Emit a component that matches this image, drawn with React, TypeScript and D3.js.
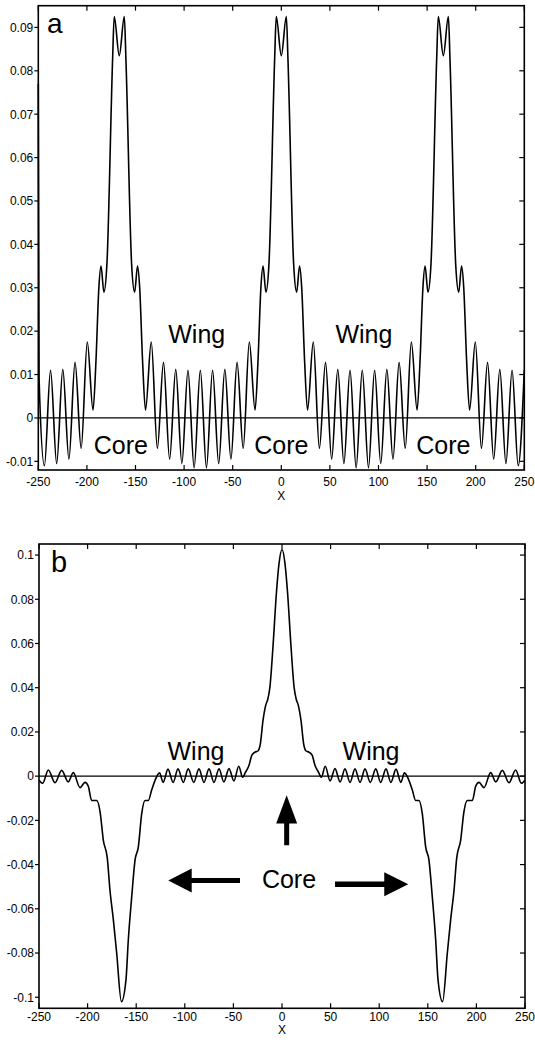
import React from "react";
import * as d3 from "d3";

const X_TICKS = [-250, -200, -150, -100, -50, 0, 50, 100, 150, 200, 250];
const X_TICK_LABELS = ["-250", "-200", "-150", "-100", "-50", "0", "50", "100", "150", "200", "250"];

const A_Y_TICKS = [-0.01, 0, 0.01, 0.02, 0.03, 0.04, 0.05, 0.06, 0.07, 0.08, 0.09];
const A_Y_LABELS = ["-0.01", "0", "0.01", "0.02", "0.03", "0.04", "0.05", "0.06", "0.07", "0.08", "0.09"];

const B_Y_TICKS = [-0.1, -0.08, -0.06, -0.04, -0.02, 0, 0.02, 0.04, 0.06, 0.08, 0.1];
const B_Y_LABELS = ["-0.1", "-0.08", "-0.06", "-0.04", "-0.02", "0", "0.02", "0.04", "0.06", "0.08", "0.1"];

// Panel a curve
const A_X = [
  -250, -249.2, -243.7, -237.4, -231.1, -224.8, -218.5, -212.2, -205.9, -199.6,
  -193.7, -190.7, -187.7, -185.5, -182.5, -179.4, -173.5, -171.9, -166.7, -161.5,
  -159.9, -154, -150.9, -147.9, -145.7, -142.7, -139.7, -133.8, -127.5, -121.2,
  -114.9, -108.6, -102.3, -96.0, -89.7, -83.3, -77.0, -70.7, -64.4, -58.1,
  -51.8, -45.5, -39.2, -32.9, -27.0, -24, -21, -18.8, -15.8, -12.7,
  -6.8, -5.2, 0, 5.2, 6.8, 12.7, 15.8, 18.8, 21, 24,
  27.0, 32.9, 39.2, 45.5, 51.8, 58.1, 64.4, 70.7, 77.0, 83.3,
  89.7, 96.0, 102.3, 108.6, 114.9, 121.2, 127.5, 133.8, 139.7, 142.7,
  145.7, 147.9, 150.9, 154, 159.9, 161.5, 166.7, 171.9, 173.5, 179.4,
  182.5, 185.5, 187.7, 190.7, 193.7, 199.6, 205.9, 212.2, 218.5, 224.8,
  231.1, 237.4, 243.7, 250,
];
const A_Y = [
  0.077, 0.009, -0.011, 0.011, -0.0105, 0.0112, -0.0095, 0.0128, -0.007, 0.0175,
  0.0018, 0.013, 0.03, 0.035, 0.029, 0.0355, 0.083, 0.0925, 0.0835, 0.0925,
  0.083, 0.0355, 0.029, 0.035, 0.03, 0.013, 0.0018, 0.0175, -0.007, 0.0128,
  -0.0095, 0.0112, -0.0105, 0.011, -0.0115, 0.011, -0.0115, 0.011, -0.0105, 0.0112,
  -0.0095, 0.0128, -0.007, 0.0175, 0.0018, 0.013, 0.03, 0.035, 0.029, 0.0355,
  0.083, 0.0925, 0.0835, 0.0925, 0.083, 0.0355, 0.029, 0.035, 0.03, 0.013,
  0.0018, 0.0175, -0.007, 0.0128, -0.0095, 0.0112, -0.0105, 0.011, -0.0115, 0.011,
  -0.0115, 0.011, -0.0105, 0.0112, -0.0095, 0.0128, -0.007, 0.0175, 0.0018, 0.013,
  0.03, 0.035, 0.029, 0.0355, 0.083, 0.0925, 0.0835, 0.0925, 0.083, 0.0355,
  0.029, 0.035, 0.03, 0.013, 0.0018, 0.0175, -0.007, 0.0128, -0.0095, 0.0112,
  -0.0105, 0.011, -0.011, 0.011,
];

// Panel b curve
const B_X = [
  -250, -246.2, -240.4, -233.5, -226.7, -219.9, -214.7, -207.8, -202.7, -199.3,
  -195.8, -190.6, -187.2, -183.8, -179.7, -177, -173.5, -170.1, -165.2, -160.5,
  -158.1, -154.6, -151.2, -147.8, -144.3, -140.9, -137.5, -134.1, -130.7, -126,
  -122.3, -117.3, -112, -107, -101.5, -96.5, -90.8, -85.4, -80.3, -75.1,
  -70, -64.8, -59.8, -54.5, -49.5, -44.5, -40.5, -37.5, -34, -31,
  -28, -24.5, -22.5, -19.5, -16.8, -14.5, -12.5, -9.3, -5.8, -3.1,
  0, 3.1, 5.8, 9.3, 12.5, 14.5, 16.8, 19.5, 22.5, 24.5,
  28, 31, 34, 37.5, 40.5, 44.5, 49.5, 54.5, 59.8, 64.8,
  70, 75.1, 80.3, 85.4, 90.8, 96.5, 101.5, 107, 112, 117.3,
  122.3, 126, 130.7, 134.1, 137.5, 140.9, 144.3, 147.8, 151.2, 154.6,
  158.1, 160.5, 165.2, 170.1, 173.5, 177, 179.7, 183.8, 187.2, 190.6,
  195.8, 199.3, 202.7, 207.8, 214.7, 219.9, 226.7, 233.5, 240.4, 246.2,
  250,
];
const B_Y = [
  -0.0018, -0.0032, 0.0028, -0.003, 0.0026, -0.0026, 0.0016, -0.0052, -0.0028, -0.0045,
  -0.011, -0.011, -0.016, -0.029, -0.0372, -0.0515, -0.065, -0.08, -0.102, -0.092,
  -0.074, -0.0545, -0.038, -0.032, -0.0168, -0.011, -0.011, -0.0063, -0.002, 0.0015,
  -0.0028, 0.0032, -0.0028, 0.0033, -0.0028, 0.0033, -0.0028, 0.0033, -0.0028, 0.0033,
  -0.0028, 0.0033, -0.0026, 0.0034, -0.0022, 0.0045, -0.0005, 0.0018, 0.0048, 0.0095,
  0.0108, 0.0115, 0.014, 0.0253, 0.032, 0.035, 0.04, 0.0584, 0.0825, 0.096,
  0.1025, 0.096, 0.0825, 0.0584, 0.04, 0.035, 0.032, 0.0253, 0.014, 0.0115,
  0.0108, 0.0095, 0.0048, 0.0018, -0.0005, 0.0045, -0.0022, 0.0034, -0.0026, 0.0033,
  -0.0028, 0.0033, -0.0028, 0.0033, -0.0028, 0.0033, -0.0028, 0.0033, -0.0028, 0.0032,
  -0.0028, 0.0015, -0.002, -0.0063, -0.011, -0.011, -0.0168, -0.032, -0.038, -0.0545,
  -0.074, -0.092, -0.102, -0.08, -0.065, -0.0515, -0.0372, -0.029, -0.016, -0.011,
  -0.011, -0.0045, -0.0028, -0.0052, 0.0016, -0.0026, 0.0026, -0.003, 0.0028, -0.0032,
  -0.0018,
];

const FONT = "'Liberation Sans', Arial, Helvetica, sans-serif";

type PanelProps = {
  xs: number[];
  ys: number[];
  xRange: [number, number];
  yDomain: [number, number];
  yRange: [number, number];
  yTicks: number[];
  yLabels: string[];
  tickBaseline: number;
  xLabelBaseline: number;
  letter: string;
  letterPos: [number, number];
  letterSize: number;
  children?: (x: d3.ScaleLinear<number, number>, y: d3.ScaleLinear<number, number>) => React.ReactNode;
};

function Panel(p: PanelProps) {
  const x = d3.scaleLinear().domain([-250, 250]).range(p.xRange);
  const y = d3.scaleLinear().domain(p.yDomain).range(p.yRange);
  const pts = p.xs.map((v, i) => [v, p.ys[i]] as [number, number]);
  const line = d3
    .line<[number, number]>()
    .x((d) => x(d[0]))
    .y((d) => y(d[1]))
    .curve(d3.curveMonotoneX);
  const [x0, x1] = p.xRange;
  const [y1, y0] = p.yRange; // y1 bottom, y0 top
  return (
    <g>
      <path d={line(pts) || ""} fill="none" stroke="#000" strokeWidth={1.6} strokeLinejoin="round" />
      <line x1={x0} x2={x1} y1={y(0)} y2={y(0)} stroke="#000" strokeWidth={1.3} />
      <rect x={x0} y={y0} width={x1 - x0} height={y1 - y0} fill="none" stroke="#000" strokeWidth={1.6} />
      {X_TICKS.map((t, i) => (
        <g key={"xt" + i}>
          <line x1={x(t)} x2={x(t)} y1={y1} y2={y1 - 5} stroke="#000" strokeWidth={1.2} />
          <line x1={x(t)} x2={x(t)} y1={y0} y2={y0 + 5} stroke="#000" strokeWidth={1.2} />
          <text x={x(t)} y={p.tickBaseline} textAnchor="middle" fontSize={12} fontFamily={FONT}>
            {X_TICK_LABELS[i]}
          </text>
        </g>
      ))}
      {p.yTicks.map((t, i) => (
        <g key={"yt" + i}>
          <line x1={x0 - 4} x2={x0} y1={y(t)} y2={y(t)} stroke="#000" strokeWidth={1.2} />
          <line x1={x1 - 5} x2={x1} y1={y(t)} y2={y(t)} stroke="#000" strokeWidth={1.2} />
          <text x={x0 - 5} y={y(t)} dy="0.36em" textAnchor="end" fontSize={12} fontFamily={FONT}>
            {p.yLabels[i]}
          </text>
        </g>
      ))}
      <text x={x(0)} y={p.xLabelBaseline} textAnchor="middle" fontSize={12} fontFamily={FONT}>
        X
      </text>
      <text x={p.letterPos[0]} y={p.letterPos[1]} fontSize={p.letterSize} fontFamily={FONT}>
        {p.letter}
      </text>
      {p.children ? p.children(x, y) : null}
    </g>
  );
}

function HArrow({ x, y, tip, base, end, half, thick }: { x: any; y: any; tip: number; base: number; end: number; half: number; thick: number }) {
  const tx = x(tip);
  const bx = x(base);
  const ex = x(end);
  const cy = y;
  const d = `M${tx},${cy} L${bx},${cy - half} L${bx},${cy - thick / 2} L${ex},${cy - thick / 2} L${ex},${cy + thick / 2} L${bx},${cy + thick / 2} L${bx},${cy + half} Z`;
  return <path d={d} fill="#000" />;
}

export default function App() {
  const labelStyle = { fontFamily: FONT, fontSize: 25 } as const;
  return (
    <svg
      width={535}
      height={1042}
      style={{ position: "absolute", left: 0, top: 0, background: "#fff" }}
    >
      <rect x={0} y={0} width={535} height={1042} fill="#fff" />
      <Panel
        xs={A_X}
        ys={A_Y}
        xRange={[38.3, 524.3]}
        yDomain={[-0.012, 0.095]}
        yRange={[470, 5.7]}
        yTicks={A_Y_TICKS}
        yLabels={A_Y_LABELS}
        tickBaseline={486}
        xLabelBaseline={500}
        letter="a"
        letterPos={[47, 33]}
        letterSize={28}
      >
        {(x, y) => (
          <g>
            <text x={x(-87)} y={y(0.0173)} textAnchor="middle" {...labelStyle}>Wing</text>
            <text x={x(85)} y={y(0.0173)} textAnchor="middle" {...labelStyle}>Wing</text>
            <text x={x(-165)} y={y(-0.0084)} textAnchor="middle" {...labelStyle}>Core</text>
            <text x={x(0)} y={y(-0.0084)} textAnchor="middle" {...labelStyle}>Core</text>
            <text x={x(166.7)} y={y(-0.0084)} textAnchor="middle" {...labelStyle}>Core</text>
          </g>
        )}
      </Panel>
      <Panel
        xs={B_X}
        ys={B_Y}
        xRange={[39, 525]}
        yDomain={[-0.105, 0.105]}
        yRange={[1008.3, 544]}
        yTicks={B_Y_TICKS}
        yLabels={B_Y_LABELS}
        tickBaseline={1021}
        xLabelBaseline={1034}
        letter="b"
        letterPos={[51, 572]}
        letterSize={29}
      >
        {(x, y) => (
          <g>
            <text x={x(-88.5)} y={y(0.0075)} textAnchor="middle" {...labelStyle}>Wing</text>
            <text x={x(91.6)} y={y(0.0075)} textAnchor="middle" {...labelStyle}>Wing</text>
            <text x={x(7.2)} y={y(-0.0507)} textAnchor="middle" {...labelStyle}>Core</text>
            <HArrow x={x} y={y(-0.0472)} tip={-117} base={-92.9} end={-43.2} half={12} thick={5} />
            <HArrow x={x} y={y(-0.0489)} tip={129.9} base={105.2} end={54.5} half={12} thick={5.5} />
            {(() => {
              const cx = x(4.8);
              const tipY = y(-0.0086);
              const baseY = y(-0.0214);
              const endY = y(-0.0312);
              const half = 10.5;
              const th = 2.5;
              const d = `M${cx},${tipY} L${cx + half},${baseY} L${cx + th},${baseY} L${cx + th},${endY} L${cx - th},${endY} L${cx - th},${baseY} L${cx - half},${baseY} Z`;
              return <path d={d} fill="#000" />;
            })()}
          </g>
        )}
      </Panel>
    </svg>
  );
}
